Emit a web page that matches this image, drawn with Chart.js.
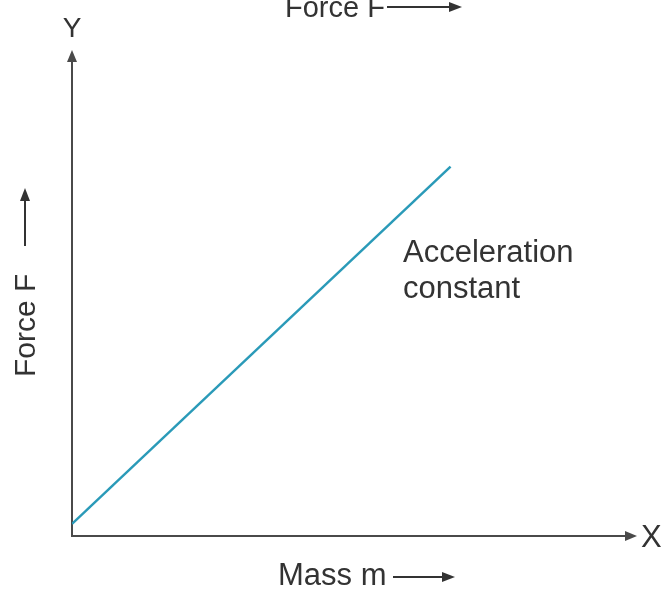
<!DOCTYPE html>
<html lang="en">
<head>
  <meta charset="UTF-8">
  <title>Force vs Mass</title>
  <style>
    body {
      margin: 0;
      background: #fff;
    }
    #chartWrapper {
      position: relative;
      width: 664px;
      height: 591px;
    }
  </style>
</head>
<body>
  <div id="chartWrapper">
    <canvas id="forceChart"></canvas>
  </div>

  <script src="https://cdn.jsdelivr.net/npm/chart.js/dist/chart.umd.min.js"></script>
  <script>
    // data (arbitrary units, axes run 0..10)
    const massValues = [0, 6.7];
    const forceValues = [0.25, 7.6];

    // texts
    const topLabel = 'Force F';
    const yAxisLabel = 'Force F';
    const xAxisLabel = 'Mass m';
    const noteLines = ['Acceleration', 'constant'];

    const TEXT_COLOR = '#333';
    const AXIS_COLOR = '#4a4a4a';
    const LINE_COLOR = '#2a9ab8';
    const FONT = '"Liberation Sans", Arial, sans-serif';

    // line with a filled head at (x2, y2)
    function arrow(ctx, x1, y1, x2, y2, len, half, width) {
      const a = Math.atan2(y2 - y1, x2 - x1);
      const bx = x2 - len * Math.cos(a);
      const by = y2 - len * Math.sin(a);
      ctx.lineWidth = width;
      ctx.beginPath();
      ctx.moveTo(x1, y1);
      ctx.lineTo(bx, by);
      ctx.stroke();
      ctx.beginPath();
      ctx.moveTo(x2, y2);
      ctx.lineTo(bx + half * Math.sin(a), by - half * Math.cos(a));
      ctx.lineTo(bx - half * Math.sin(a), by + half * Math.cos(a));
      ctx.closePath();
      ctx.fill();
    }

    const decorations = {
      id: 'decorations',
      beforeDatasetsDraw(chart) {
        const { ctx, chartArea: ca } = chart;
        ctx.save();
        ctx.strokeStyle = AXIS_COLOR;
        ctx.fillStyle = AXIS_COLOR;
        // axes
        arrow(ctx, ca.left, ca.bottom + 1, ca.left, ca.top, 12, 5, 2);
        arrow(ctx, ca.left - 1, ca.bottom, ca.right, ca.bottom, 12, 5, 2);
        ctx.restore();
      },
      afterDraw(chart) {
        const { ctx, chartArea: ca } = chart;
        ctx.save();
        ctx.fillStyle = TEXT_COLOR;
        ctx.strokeStyle = TEXT_COLOR;
        ctx.textBaseline = 'alphabetic';

        // axis letters
        ctx.textAlign = 'center';
        ctx.font = '28px ' + FONT;
        ctx.fillText('Y', ca.left, 37);
        ctx.font = '31px ' + FONT;
        ctx.textAlign = 'left';
        ctx.fillText('X', ca.right + 4, ca.bottom + 11);

        // top label
        ctx.font = '29px ' + FONT;
        ctx.fillText(topLabel, 285, 17);
        arrow(ctx, 387, 7, 462, 7, 13, 5, 2);

        // bottom label
        ctx.font = '31px ' + FONT;
        ctx.fillText(xAxisLabel, 278, 585);
        arrow(ctx, 393, 577, 455, 577, 13, 5, 2);

        // vertical label
        ctx.save();
        ctx.translate(35, 377);
        ctx.rotate(-Math.PI / 2);
        ctx.font = '30px ' + FONT;
        ctx.fillText(yAxisLabel, 0, 0);
        ctx.restore();
        arrow(ctx, 25, 246, 25, 188, 13, 5, 2);

        // note next to the line
        ctx.font = '31px ' + FONT;
        ctx.fillText(noteLines[0], 403, 262);
        ctx.fillText(noteLines[1], 403, 298);
        ctx.restore();
      }
    };

    new Chart(document.getElementById('forceChart'), {
      type: 'line',
      data: {
        datasets: [{
          data: massValues.map((m, i) => ({ x: m, y: forceValues[i] })),
          borderColor: LINE_COLOR,
          borderWidth: 2.5,
          pointRadius: 0,
          fill: false,
          tension: 0
        }]
      },
      options: {
        responsive: true,
        maintainAspectRatio: false,
        animation: false,
        layout: { padding: { left: 72, right: 27, top: 50, bottom: 55 } },
        plugins: {
          legend: { display: false },
          tooltip: { enabled: false }
        },
        scales: {
          x: { type: 'linear', min: 0, max: 10, display: false },
          y: { type: 'linear', min: 0, max: 10, display: false }
        }
      },
      plugins: [decorations]
    });
  </script>
</body>
</html>
